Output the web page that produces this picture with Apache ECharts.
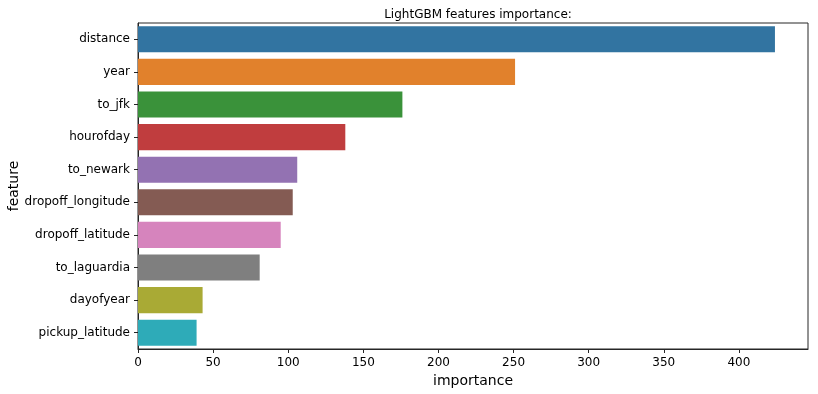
<!DOCTYPE html>
<html>
<head>
<meta charset="utf-8">
<script src="https://cdn.jsdelivr.net/npm/echarts@6/dist/echarts.min.js"></script>
<style>html,body{margin:0;padding:0;background:#fff}#c{width:818px;height:394px}</style>
</head>
<body>
<div id="c"></div>
<script>
const features = ['distance','year','to_jfk','hourofday','to_newark','dropoff_longitude','dropoff_latitude','to_laguardia','dayofyear','pickup_latitude'];
const importance = [424, 251, 176, 138, 106, 103, 95, 81, 43, 39];
const xTicks = [0, 50, 100, 150, 200, 250, 300, 350, 400];

const palette = ['#3274a1','#e1812c','#3a923a','#c03d3e','#9372b2','#845b53','#d684bd','#7f7f7f','#a9aa35','#2eabb8'];
const font = 'DejaVu Sans';
const dark = '#262626';

const chart = echarts.init(document.getElementById('c'), null, {renderer: 'canvas'});
chart.setOption({
  animation: false,
  textStyle: {fontFamily: font},
  title: {
    text: 'LightGBM features importance:',
    left: 473, top: 4, textAlign: 'center',
    textStyle: {fontFamily: font, fontSize: 12, fontWeight: 'normal', color: '#000'}
  },
  grid: {left: 138, right: 10, top: 23, bottom: 45, show: true, borderColor: dark, borderWidth: 1, containLabel: false, outerBoundsMode: 'none'},
  xAxis: {
    type: 'value', min: 0, max: 446, interval: 50,
    name: 'importance', nameLocation: 'middle', nameGap: 23,
    nameTextStyle: {fontFamily: font, fontSize: 14, color: '#000'},
    axisLine: {show: true, lineStyle: {color: dark, width: 1}},
    axisTick: {show: true, length: 4, lineStyle: {color: dark}, customValues: xTicks},
    axisLabel: {fontFamily: font, fontSize: 12, color: '#000', margin: 8, customValues: xTicks},
    splitLine: {show: false}
  },
  yAxis: {
    type: 'category', data: features, inverse: true,
    name: 'feature', nameLocation: 'middle', nameGap: 117, nameRotate: 90, nameMoveOverlap: false,
    nameTextStyle: {fontFamily: font, fontSize: 14, color: '#000'},
    axisLine: {show: true, lineStyle: {color: dark, width: 1}},
    axisTick: {show: true, length: 4, alignWithLabel: true, lineStyle: {color: dark}},
    axisLabel: {fontFamily: font, fontSize: 12, color: '#000', margin: 8},
    splitLine: {show: false}
  },
  series: [{
    type: 'bar',
    barCategoryGap: '20%',
    data: importance.map((v, i) => ({value: v, itemStyle: {color: palette[i]}}))
  }]
});
</script>
</body>
</html>
